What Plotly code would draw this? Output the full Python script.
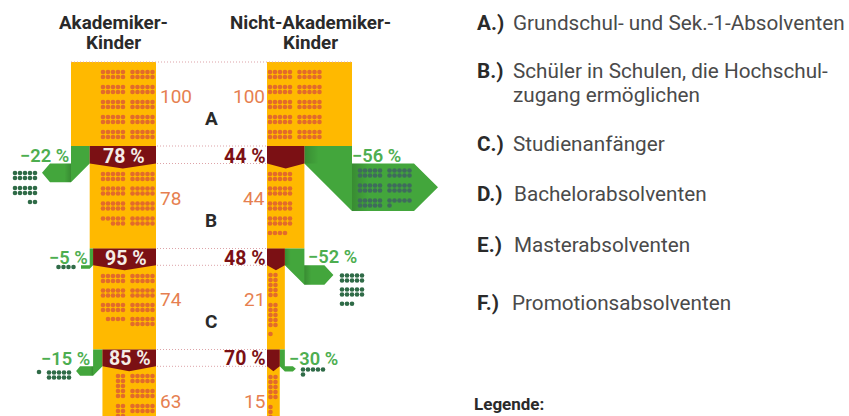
import plotly.graph_objects as go

# ---------- data ----------
stages = ["A", "B", "C"]
aka_values = [100, 78, 74, 63]
nicht_values = [100, 44, 21, 15]
aka_rates = [78, 95, 85]
nicht_rates = [44, 48, 70]
aka_drops = [22, 5, 15]
nicht_drops = [56, 52, 30]
step_labels = ["A.)", "B.)", "C.)", "D.)", "E.)", "F.)"]
step_texts = [["Grundschul- und Sek.-1-Absolventen"],
              ["Schüler in Schulen, die Hochschul-", "zugang ermöglichen"],
              ["Studienanfänger"], ["Bachelorabsolventen"], ["Masterabsolventen"],
              ["Promotionsabsolventen"]]

# ---------- layout constants (pixel space of the axes) ----------
YELLOW, MAROON, GREEN, DOT, GDOT, ORANGE_T, GREEN_T = "#FFB900", "#7B1014", "#43A63C", "#E26B2B", "#2F6B47", "#E67F50", "#4DAE50"
TEXT, BOLD = "#4A4A4A", "#2A2A2A"
SCALE = 0.85
AKA_R, NICHT_L = 156.0, 267.0
Y_TOP = [62, 146, 248.5, 349.5, 416]
Y_BAND = [163.5, 265.3, 366.3]
FONT = "Roboto"

fig = go.Figure()
ann = []


def poly(xs, ys, color, **kw):
    fig.add_trace(go.Scatter(x=xs + xs[:1], y=ys + ys[:1], mode="lines", fill="toself",
                             line=dict(width=0), fillcolor=color, hoverinfo="skip", **kw))


def shade(x0, x1, y0, y1, horizontal_dark_at_start=True, alpha=0.16):
    c = [[0, f"rgba(0,0,0,{alpha})"], [1, "rgba(0,0,0,0)"]]
    if not horizontal_dark_at_start:
        c = [[0, "rgba(0,0,0,0)"], [1, f"rgba(0,0,0,{alpha})"]]
    fig.add_trace(go.Scatter(x=[x0, x1, x1, x0, x0], y=[y0, y0, y1, y1, y0], mode="lines", fill="toself",
                             line=dict(width=0), hoverinfo="skip",
                             fillgradient=dict(type="horizontal", colorscale=c)))


def dots(count, slots, color, size=4.6):
    """slots: (x0, y0, cols, rows, align); filled row by row until count is used."""
    xs, ys, left = [], [], count
    for x0, y0, cols, rows, align in slots:
        for r in range(rows):
            take = min(left, cols)
            if take <= 0:
                break
            start = cols - take if align == "r" else 0
            for c in range(start, start + take):
                xs.append(x0 + c * 5)
                ys.append(y0 + r * 5)
            left -= take
    fig.add_trace(go.Scatter(x=xs, y=ys, mode="markers", hoverinfo="skip",
                             marker=dict(size=size, color=color, line=dict(width=0))))


def arrow(outer, inner, ytop, yband, run, tip):
    t = abs(outer - inner)
    d = 1 if outer > inner else -1
    sh = outer + d * run
    poly([inner, outer, outer, sh, sh + d * tip, sh, outer, inner],
         [ytop, ytop, yband, yband, yband + t / 2, yband + t, yband + t, yband], GREEN)
    return t


def label(x, y, s, size, color, anchor="center", bold=False, weight=None):
    ann.append(dict(x=x, y=y, text=s, xref="x", yref="y", showarrow=False, xanchor=anchor, yanchor="middle",
                    align="left" if anchor == "left" else "center", borderpad=0, borderwidth=0,
                    xshift={"left": -1, "right": 1, "center": 0}[anchor],
                    font=dict(family=FONT, size=size, color=color, weight=weight or (700 if bold else 400))))


# ---------- bars ----------
for i in range(4):
    y0, y1 = Y_TOP[i], Y_TOP[i + 1]
    a, n = AKA_R - aka_values[i] * SCALE, NICHT_L + nicht_values[i] * SCALE
    poly([a, AKA_R, AKA_R, a], [y0, y0, y1, y1], YELLOW)
    poly([NICHT_L, n, n, NICHT_L], [y0, y0, y1, y1], YELLOW)

# ---------- green exit arrows ----------
aka_shape = [(21, 8), (8.7, 0), (13, 4)]
nicht_shape = [(62, 24), (20, 9), (8, 3)]
for i in range(3):
    outer = AKA_R - aka_values[i] * SCALE
    inner = AKA_R - aka_values[i + 1] * SCALE
    t = arrow(outer, inner, Y_TOP[i + 1], Y_BAND[i], *aka_shape[i])
    if t > 6:
        shade(outer - t * 0.35, outer, Y_BAND[i], Y_BAND[i] + t, horizontal_dark_at_start=False)
    outer = NICHT_L + nicht_values[i] * SCALE
    inner = NICHT_L + nicht_values[i + 1] * SCALE
    t = arrow(outer, inner, Y_TOP[i + 1], Y_BAND[i], *nicht_shape[i])
    if t > 6:
        shade(outer, outer + t * 0.35, Y_BAND[i], Y_BAND[i] + t)
        shade(inner, inner + t * 0.3, Y_TOP[i + 1], Y_BAND[i])

# ---------- maroon transition bands ----------
for i in range(3):
    y0, y1 = Y_TOP[i + 1], Y_BAND[i]
    a = AKA_R - aka_values[i + 1] * SCALE
    poly([a, AKA_R, AKA_R, (a + AKA_R) / 2, a], [y0, y0, y1, y1 + 5, y1], MAROON)
    n = NICHT_L + nicht_values[i + 1] * SCALE
    poly([NICHT_L, n, n, (n + NICHT_L) / 2, NICHT_L], [y0, y0, y1, y1 + 5, y1], MAROON)

# ---------- person dots ----------
R_COL, L_COL = 132.5, 103
ROWS_A = [72, 87, 102, 117, 132]
dots(aka_values[0], [(R_COL, y, 5, 2, "r") for y in ROWS_A] + [(L_COL, y, 5, 2, "r") for y in ROWS_A], DOT)
ROWS_B = [174, 188.5, 203.5, 218.5]
dots(aka_values[1], [(R_COL, y, 5, 2, "r") for y in ROWS_B] + [(L_COL, y, 5, 2, "r") for y in ROWS_B], DOT)
ROWS_C = [276, 290.5, 305, 319]
dots(aka_values[2], [(R_COL, y, 5, 2, "r") for y in ROWS_C] + [(L_COL, y, 5, 2, "r") for y in ROWS_C], DOT)
dots(aka_values[3], [(R_COL, y, 5, 2, "r") for y in (376, 391, 406)] + [(118, y, 2, 5, "r") for y in (376, 406)], DOT)

dots(nicht_values[0], [(270, y, 5, 2, "l") for y in ROWS_A] + [(299.5, y, 5, 2, "l") for y in ROWS_A], DOT)
dots(nicht_values[1], [(270, y, 5, 2, "l") for y in ROWS_B + [233]], DOT)
dots(nicht_values[2], [(270.5, y, 2, 5, "l") for y in (275, 305, 334)], DOT)
dots(nicht_values[3], [(270.5, 377, 2, 5, "l"), (270.5, 407, 1, 5, "l")], DOT)

# dropped-out people
dots(aka_values[0] - aka_values[1], [(15, 173, 5, 2, "r"), (15, 188, 5, 2, "r"), (15, 202, 5, 2, "r")], GDOT)
dots(aka_values[1] - aka_values[2], [(58.5, 267, 5, 1, "l")], GDOT)
dots(aka_values[2] - aka_values[3], [(49, 372.5, 5, 2, "l"), (39, 372, 1, 1, "l")], GDOT)
dots(nicht_values[0] - nicht_values[1],
     [(360, y, 5, 2, "l") for y in (170.5, 185.5, 200.5)] + [(389.5, y, 5, 2, "l") for y in (170.5, 185.5, 200.5)],
     "#3F6B5C")
dots(nicht_values[1] - nicht_values[2], [(342, y, 5, 2, "l") for y in (275.5, 289.5, 303.7)], GDOT)
dots(nicht_values[2] - nicht_values[3], [(303, 369.5, 5, 2, "l")], GDOT)

# ---------- dotted guide lines ----------
GUIDE = "#DDA3A8"
fig.add_trace(go.Scatter(x=[71, 352], y=[62, 62], mode="lines", hoverinfo="skip",
                         line=dict(color=GUIDE, width=1, dash="1px 2px")))
for i in range(3):
    for y in (Y_TOP[i + 1], Y_BAND[i]):
        fig.add_trace(go.Scatter(x=[157, 266], y=[y, y], mode="lines", hoverinfo="skip",
                                 line=dict(color=GUIDE, width=1, dash="1px 2px")))

# ---------- texts ----------
label(113, 23, "Akademiker-", 18.8, BOLD, bold=True)
label(113, 43, "Kinder", 18.8, BOLD, bold=True)
label(310, 23, "Nicht-Akademiker-", 18.8, BOLD, bold=True)
label(310, 43, "Kinder", 18.8, BOLD, bold=True)

for v, y in zip(aka_values, [96, 198, 299, 401]):
    label(161, y, str(v), 19, ORANGE_T, "left")
for v, y in zip(nicht_values, [96, 198, 299, 401]):
    label(264, y, str(v), 19, ORANGE_T, "right")
for s, y in zip(stages, [118, 220, 321]):
    label(211, y, s, 19, BOLD, bold=True)

ry = [156, 258, 358]
for i in range(3):
    a = AKA_R - aka_values[i + 1] * SCALE
    label((a + AKA_R) / 2 + 1, ry[i], f"{aka_rates[i]} %", 19.5, "#F4EDE6", bold=True)
    label(265, ry[i], f"{nicht_rates[i]} %", 19.5, MAROON, "right", bold=True)

for d, x, y in zip(aka_drops, [68, 87, 89], [155, 257, 358]):
    label(x, y, f"−{d} %", 18.3, GREEN_T, "right", weight=600)
for d, x, y in zip(nicht_drops, [353, 309, 290], [155, 256, 358]):
    label(x, y, f"−{d} %", 18.3, GREEN_T, "left", weight=600)

step_y = [23, 71, 144, 194, 245, 303]
text_x = [514, 514, 514, 515, 515, 513]
for lab, lines, y, x in zip(step_labels, step_texts, step_y, text_x):
    label(478, y, lab, 20.7, BOLD, "left", bold=True)
    for k, s in enumerate(lines):
        label(x, y + k * 24, s, 20.7, TEXT, "left")
label(475, 404, "Legende:", 17, BOLD, "left", bold=True)

fig.update_layout(
    width=849, height=416, margin=dict(l=0, r=0, t=0, b=0), showlegend=False,
    paper_bgcolor="white", plot_bgcolor="white", annotations=ann,
    xaxis=dict(range=[0, 849], visible=False, fixedrange=True),
    yaxis=dict(range=[416, 0], visible=False, fixedrange=True),
)
fig.write_html("out.html", config={"displayModeBar": False},
               post_script="document.body.style.margin='0';document.body.style.overflow='hidden';")
